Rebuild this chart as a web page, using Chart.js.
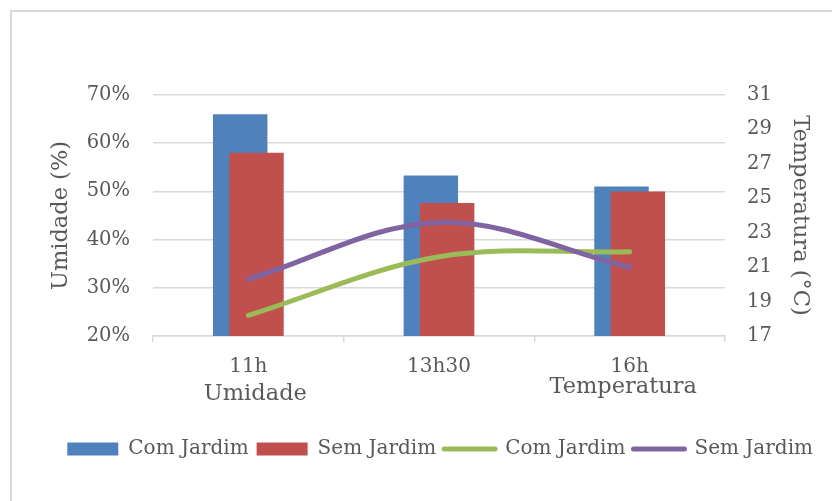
<!DOCTYPE html>
<html lang="pt">
<head>
<meta charset="utf-8">
<script src="https://cdn.jsdelivr.net/npm/chart.js@4.4.1/dist/chart.umd.min.js"></script>
<style>
  html, body { margin: 0; padding: 0; background: #ffffff; overflow: hidden; }
  #wrap { position: relative; width: 832px; height: 501px; }
  #frame { position: absolute; left: 10px; top: 10px; width: 900px; height: 600px;
           border: 2px solid #d9d9d9; box-sizing: border-box; }
  #chart { position: absolute; left: 0; top: 0; }
</style>
</head>
<body>
<div id="wrap">
  <div id="frame"></div>
  <canvas id="chart" width="832" height="501"></canvas>
</div>
<script>
// Horários de medição
const horarios = ['11h', '13h30', '16h'];
// Texto extra abaixo de algumas categorias
const notasEixo = ['Umidade', '', 'Temperatura'];

// Umidade relativa (%)
const umidadeComJardim = [66, 53.3, 51];
const umidadeSemJardim = [58, 47.6, 50];

// Temperatura (°C)
const temperaturaComJardim = [18.2, 21.6, 21.9];
const temperaturaSemJardim = [20.3, 23.6, 21.0];

// Marcas dos eixos
const umidadeTicks = [20, 30, 40, 50, 60, 70];
const temperaturaTicks = [17, 19, 21, 23, 25, 27, 29, 31];

const cinzaTexto = '#595959';
const cinzaGrade = '#d9d9d9';
const fonte = "'DejaVu Serif', serif";

Chart.defaults.font.family = fonte;
Chart.defaults.font.size = 20;
Chart.defaults.color = cinzaTexto;

// As barras "Sem Jardim" ficam por cima das barras "Com Jardim"
const camadasBarras = {
  id: 'camadasBarras',
  beforeDatasetDraw(chart, args) {
    if (args.index === 1) return false;
  },
  afterDatasetDraw(chart, args) {
    if (args.index === 0) {
      const ctx = chart.ctx;
      const a = chart.chartArea;
      ctx.save();
      ctx.beginPath();
      ctx.rect(a.left, a.top, a.right - a.left, a.bottom - a.top);
      ctx.clip();
      chart.getDatasetMeta(1).controller.draw();
      ctx.restore();
    }
  }
};

// Rótulos adicionais sob o eixo das categorias
const notasCategoria = {
  id: 'notasCategoria',
  afterDraw(chart) {
    const xs = chart.scales.x;
    const ctx = chart.ctx;
    const ajuste = [[7, 64], [0, 0], [-6.5, 57]];
    ctx.save();
    ctx.font = '22.5px ' + fonte;
    ctx.fillStyle = cinzaTexto;
    ctx.textAlign = 'center';
    ctx.textBaseline = 'alphabetic';
    notasEixo.forEach((txt, i) => {
      if (!txt) return;
      ctx.fillText(txt, xs.getPixelForValue(i) + ajuste[i][0], xs.top + ajuste[i][1]);
    });
    ctx.restore();
  }
};

const barraComum = { yAxisID: 'y', borderWidth: 0, categoryPercentage: 0.171, barPercentage: 3.34, order: 1 };
const linhaComum = { type: 'line', yAxisID: 'y1', borderWidth: 5, borderCapStyle: 'round',
                     borderJoinStyle: 'round', pointRadius: 0, tension: 0.35 };

new Chart(document.getElementById('chart'), {
  type: 'bar',
  data: {
    labels: horarios,
    datasets: [
      Object.assign({ label: 'Com Jardim', data: umidadeComJardim, backgroundColor: '#4f81bd' }, barraComum),
      Object.assign({ label: 'Sem Jardim', data: umidadeSemJardim, backgroundColor: '#c0504d' }, barraComum),
      Object.assign({ label: 'Com Jardim', data: temperaturaComJardim,
                      borderColor: '#9bbb59', backgroundColor: '#9bbb59', order: 0 }, linhaComum),
      Object.assign({ label: 'Sem Jardim', data: temperaturaSemJardim,
                      borderColor: '#8064a2', backgroundColor: '#8064a2', order: -1 }, linhaComum)
    ]
  },
  options: {
    responsive: false,
    animation: false,
    devicePixelRatio: 1,
    layout: { padding: { left: 30, right: 11, top: 95, bottom: 32 } },
    plugins: {
      tooltip: { enabled: false },
      legend: {
        position: 'bottom',
        align: 'end',
        labels: {
          usePointStyle: true,
          pointStyleWidth: 51,
          boxHeight: 13,
          padding: 8,
          color: cinzaTexto,
          font: { size: 20 },
          sort: (a, b) => a.datasetIndex - b.datasetIndex,
          generateLabels(chart) {
            const itens = Chart.defaults.plugins.legend.labels.generateLabels(chart);
            itens.forEach(it => {
              const ds = chart.data.datasets[it.datasetIndex];
              if (ds.type === 'line') {
                it.pointStyle = 'line';
                it.lineWidth = 5;
                it.strokeStyle = ds.borderColor;
                it.lineCap = 'round';
              } else {
                it.pointStyle = 'rect';
                it.lineWidth = 0;
                it.fillStyle = ds.backgroundColor;
              }
            });
            return itens;
          }
        }
      }
    },
    scales: {
      x: {
        offset: true,
        grid: {
          offset: true,
          drawOnChartArea: false,
          drawTicks: true,
          tickLength: 6,
          color: cinzaGrade,
          lineWidth: 1.5
        },
        border: { color: cinzaGrade, width: 1.5 },
        ticks: { padding: 13, color: cinzaTexto, maxRotation: 0, autoSkip: false, font: { size: 20 } },
        afterFit(s) { s.height = 95; }
      },
      y: {
        position: 'left',
        min: umidadeTicks[0],
        max: umidadeTicks[umidadeTicks.length - 1],
        afterBuildTicks(s) { s.ticks = umidadeTicks.map(v => ({ value: v })); },
        grid: { drawTicks: false, color: cinzaGrade, lineWidth: 1.5 },
        border: { display: false },
        ticks: { padding: 23, color: cinzaTexto, font: { size: 19.5 }, callback: v => v + '%' },
        title: {
          display: true,
          text: 'Umidade (%)',
          color: cinzaTexto,
          font: { size: 22.5 },
          padding: { top: 17.5, bottom: 0 }
        },
        afterFit(s) { s.width = 123; }
      },
      y1: {
        position: 'right',
        min: temperaturaTicks[0],
        max: temperaturaTicks[temperaturaTicks.length - 1],
        afterBuildTicks(s) { s.ticks = temperaturaTicks.map(v => ({ value: v })); },
        grid: { drawOnChartArea: false, drawTicks: false },
        border: { display: false },
        ticks: { padding: 22, color: cinzaTexto, font: { size: 19.5 } },
        title: {
          display: true,
          text: 'Temperatura (°C)',
          color: cinzaTexto,
          font: { size: 22.5 },
          padding: { top: 8, bottom: 0 }
        },
        afterFit(s) { s.width = 96; }
      }
    }
  },
  plugins: [camadasBarras, notasCategoria]
});
</script>
</body>
</html>
